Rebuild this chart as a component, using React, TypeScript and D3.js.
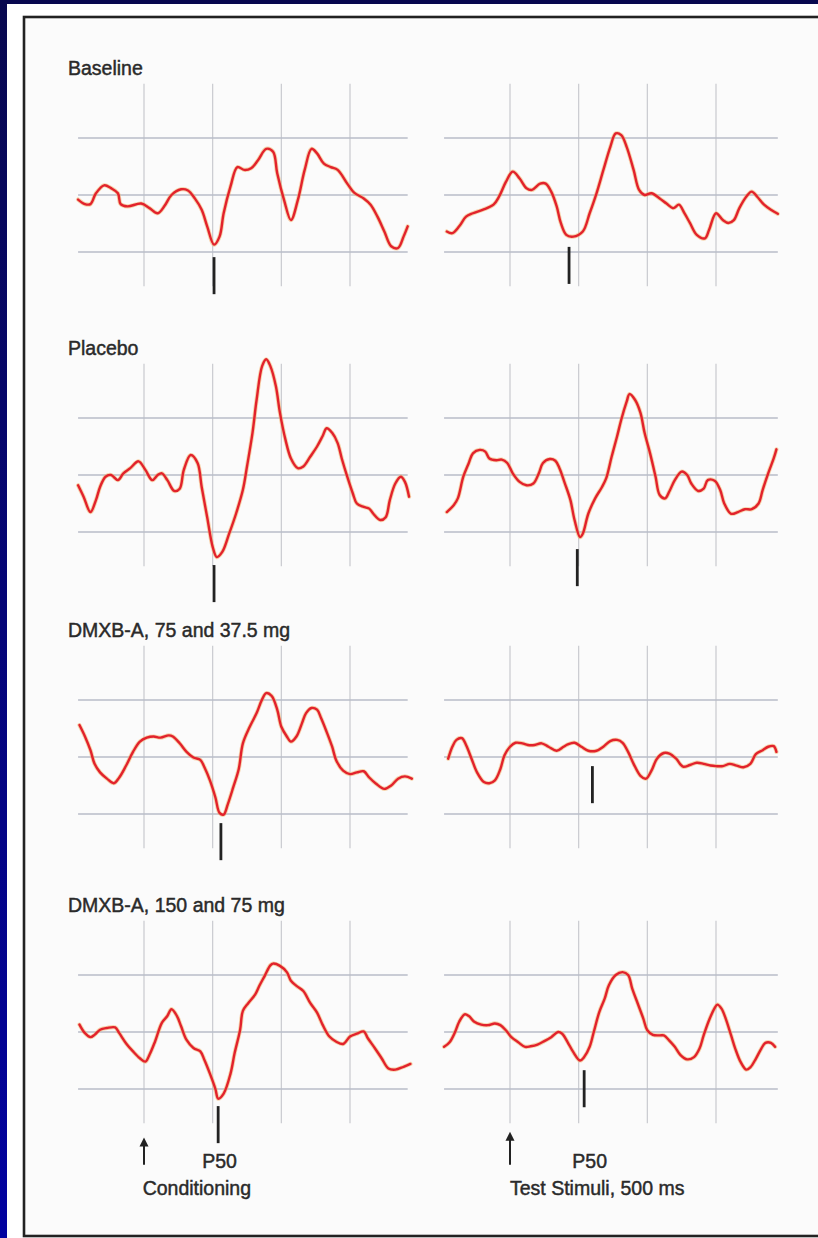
import React from 'react';
import * as d3 from 'd3';

// P50 auditory evoked potentials, conditioning (left) and test (right) stimulus
// each trace: [latency in ms from stimulus, amplitude in grid divisions]
const baselineCond = [[-48,-0.08],[-43,-0.16],[-39,-0.16],[-35,0.03],[-29,0.17],[-24,0.12],[-19,0.03],[-17,-0.16],[-12,-0.2],[-2,-0.15],[4,-0.23],[10,-0.32],[15,-0.19],[20,0],[27,0.1],[32,0.08],[37,-0.06],[42,-0.26],[46,-0.55],[51,-0.87],[55,-0.73],[58,-0.32],[63,0.15],[68,0.49],[73,0.44],[78,0.47],[83,0.61],[89,0.81],[94,0.76],[97,0.38],[102,-0.09],[107,-0.44],[112,-0.09],[117,0.44],[122,0.81],[126,0.73],[131,0.55],[136,0.49],[141,0.44],[148,0.2],[153,0.04],[160,-0.06],[165,-0.17],[170,-0.38],[175,-0.64],[180,-0.9],[185,-0.93],[189,-0.73],[192,-0.55]];
const baselineTest = [[-46,-0.64],[-42,-0.67],[-37,-0.55],[-32,-0.38],[-27,-0.32],[-20,-0.26],[-12,-0.17],[-8,-0.03],[-3,0.23],[2,0.41],[7,0.29],[12,0.12],[16,0.09],[22,0.2],[26,0.2],[30,0.06],[34,-0.2],[37,-0.49],[41,-0.7],[46,-0.73],[53,-0.64],[58,-0.32],[63,0.03],[68,0.44],[73,0.84],[77,1.08],[81,1.05],[85,0.84],[90,0.44],[94,0.09],[98,0],[103,0.03],[109,-0.06],[114,-0.15],[119,-0.23],[123,-0.17],[127,-0.32],[131,-0.49],[136,-0.7],[142,-0.76],[145,-0.61],[150,-0.32],[155,-0.44],[159,-0.49],[163,-0.44],[167,-0.23],[172,-0.03],[176,0.06],[180,-0.03],[185,-0.17],[190,-0.26],[195,-0.33]];
const placeboCond = [[-48,-0.18],[-44,-0.38],[-39,-0.65],[-35,-0.44],[-32,-0.21],[-28,-0.03],[-24,0],[-19,-0.09],[-15,0.03],[-10,0.12],[-4,0.24],[1,0.09],[6,-0.09],[10,0],[13,0.03],[17,-0.09],[22,-0.28],[26,-0.24],[29,0.09],[34,0.35],[39,0.21],[42,-0.21],[46,-0.74],[50,-1.26],[53,-1.44],[57,-1.35],[62,-1.03],[67,-0.68],[72,-0.26],[75,0.15],[79,0.74],[82,1.32],[86,1.91],[89,2.03],[92,1.91],[96,1.56],[99,1.09],[103,0.62],[107,0.29],[112,0.12],[116,0.15],[121,0.32],[126,0.5],[130,0.68],[133,0.82],[137,0.74],[141,0.56],[144,0.29],[148,-0.03],[152,-0.32],[155,-0.5],[160,-0.56],[164,-0.59],[167,-0.68],[172,-0.79],[176,-0.74],[179,-0.44],[183,-0.15],[187,-0.03],[190,-0.12],[193,-0.38]];
const placeboTest = [[-46,-0.65],[-41,-0.53],[-38,-0.41],[-34,-0.03],[-30,0.21],[-27,0.38],[-22,0.44],[-18,0.41],[-15,0.29],[-10,0.26],[-6,0.27],[-2,0.21],[2,0.03],[7,-0.12],[12,-0.18],[17,-0.15],[21,0.03],[24,0.21],[29,0.28],[33,0.25],[36,0.12],[40,-0.15],[44,-0.44],[47,-0.79],[51,-1.09],[53,-1.03],[57,-0.68],[62,-0.41],[67,-0.21],[70,-0.06],[74,0.32],[78,0.68],[81,0.97],[85,1.29],[87,1.42],[91,1.32],[95,1.09],[98,0.74],[102,0.38],[106,-0.03],[109,-0.35],[113,-0.41],[116,-0.29],[120,-0.09],[125,0.06],[129,0],[132,-0.15],[137,-0.28],[141,-0.24],[144,-0.09],[149,-0.1],[153,-0.26],[156,-0.5],[161,-0.68],[166,-0.65],[171,-0.6],[176,-0.6],[181,-0.5],[184,-0.26],[188,0.03],[192,0.29],[194,0.45]];
const dmxb75Cond = [[-47,0.56],[-43,0.36],[-39,0.12],[-36,-0.12],[-32,-0.27],[-27,-0.38],[-22,-0.46],[-18,-0.36],[-13,-0.15],[-8,0.09],[-3,0.27],[2,0.34],[7,0.36],[12,0.34],[18,0.38],[21,0.36],[26,0.24],[31,0.09],[36,-0.01],[41,-0.05],[44,-0.18],[48,-0.41],[52,-0.71],[55,-0.98],[58,-1.01],[61,-0.83],[65,-0.53],[69,-0.21],[72,0.24],[77,0.53],[82,0.77],[86,1.01],[89,1.12],[93,1.07],[97,0.83],[100,0.53],[104,0.36],[107,0.27],[111,0.36],[115,0.59],[118,0.77],[122,0.86],[126,0.83],[129,0.68],[133,0.44],[137,0.18],[140,-0.06],[145,-0.24],[150,-0.3],[155,-0.27],[160,-0.25],[164,-0.36],[169,-0.47],[175,-0.56],[180,-0.5],[185,-0.38],[190,-0.34],[195,-0.38]];
const dmxb75Test = [[-45,-0.03],[-42,0.18],[-39,0.3],[-35,0.33],[-32,0.21],[-28,-0.03],[-24,-0.27],[-19,-0.44],[-15,-0.46],[-11,-0.41],[-7,-0.21],[-4,0.03],[0,0.18],[4,0.25],[9,0.24],[13,0.21],[18,0.21],[23,0.24],[28,0.18],[34,0.11],[39,0.18],[42,0.22],[47,0.25],[52,0.18],[57,0.11],[63,0.11],[68,0.18],[73,0.28],[78,0.3],[82,0.25],[86,0.09],[90,-0.12],[95,-0.33],[99,-0.38],[103,-0.24],[107,-0.03],[112,0.07],[116,0.06],[121,-0.03],[126,-0.17],[131,-0.14],[136,-0.1],[141,-0.12],[146,-0.15],[150,-0.16],[155,-0.16],[160,-0.12],[165,-0.15],[170,-0.18],[175,-0.12],[179,0.05],[184,0.12],[188,0.18],[192,0.19],[194,0.09]];
const dmxb150Cond = [[-47,0.13],[-43,-0.02],[-39,-0.09],[-36,-0.05],[-32,0.04],[-27,0.07],[-21,0.08],[-18,-0.02],[-13,-0.2],[-8,-0.34],[-3,-0.46],[1,-0.52],[4,-0.4],[8,-0.17],[13,0.16],[17,0.28],[20,0.4],[24,0.28],[27,0.1],[31,-0.14],[36,-0.28],[41,-0.34],[44,-0.49],[48,-0.73],[52,-1],[54,-1.17],[58,-1.08],[63,-0.73],[66,-0.37],[70,0.04],[72,0.37],[76,0.51],[81,0.66],[84,0.81],[88,0.99],[92,1.17],[94,1.2],[99,1.16],[104,1.05],[107,0.9],[111,0.81],[116,0.72],[121,0.51],[126,0.34],[130,0.13],[135,-0.08],[140,-0.17],[145,-0.21],[150,-0.08],[155,-0.03],[160,0.01],[163,-0.11],[168,-0.28],[173,-0.46],[178,-0.64],[183,-0.66],[189,-0.61],[194,-0.56]];
const dmxb150Test = [[-48,-0.26],[-44,-0.18],[-40,0],[-37,0.18],[-33,0.31],[-30,0.28],[-26,0.18],[-21,0.13],[-16,0.12],[-11,0.15],[-7,0.12],[-3,0.03],[1,-0.09],[6,-0.18],[11,-0.26],[15,-0.25],[20,-0.22],[25,-0.16],[30,-0.09],[35,0],[38,-0.03],[42,-0.18],[46,-0.35],[51,-0.5],[54,-0.44],[58,-0.26],[61,0],[65,0.35],[69,0.59],[72,0.82],[77,1],[82,1.05],[86,1],[89,0.76],[93,0.5],[97,0.24],[100,0.03],[104,-0.05],[109,-0.06],[112,-0.06],[116,-0.15],[120,-0.26],[124,-0.4],[129,-0.48],[134,-0.44],[138,-0.29],[141,-0.06],[145,0.21],[149,0.42],[151,0.48],[154,0.41],[157,0.24],[161,-0.06],[164,-0.29],[168,-0.53],[172,-0.66],[175,-0.62],[179,-0.47],[183,-0.29],[186,-0.19],[190,-0.19],[193,-0.26]];

const rowLabels = ['Baseline', 'Placebo', 'DMXB-A, 75 and 37.5 mg', 'DMXB-A, 150 and 75 mg'];
const condTraces = [baselineCond, placeboCond, dmxb75Cond, dmxb150Cond];
const testTraces = [baselineTest, placeboTest, dmxb75Test, dmxb150Test];
// P50 wave latency (ms) and where its marker starts (divisions)
const condP50 = [51, 51, 56, 54];
const testP50 = [43, 49, 60, 54];
const condMarkTop = [-1.09, -1.58, -1.16, -1.3];
const testMarkTop = [-0.91, -1.3, -0.16, -0.67];
const gridMs = [0, 50, 100, 150];
const gridDiv = [-1, 0, 1];

const W = 818;
const H = 1238;
const rowMid = [195, 475, 757, 1032];
const unit = 57;
const font = '"Liberation Sans", Arial, sans-serif';
const ink = '#2a2a2a';

const xCond = d3.scaleLinear().domain([0, 150]).range([144, 350]);
const xTest = d3.scaleLinear().domain([0, 150]).range([510, 716]);
const condExtent = [-48, 192];
const testExtent = [-48, 195];

const Label = ({ x, y, anchor = 'start', children }) => (
  <text x={x} y={y} textAnchor={anchor} fontFamily={font} fontSize={19.5}
    fill={ink} stroke={ink} strokeWidth={0.45}>{children}</text>
);

const Panel = ({ x, extent, y, trace, p50, markTop }) => {
  const line = d3.line()
    .x(d => x(d[0]))
    .y(d => y(d[1]))
    .curve(d3.curveCatmullRom.alpha(0.5));
  const path = line(trace);
  return (
    <g>
      {gridMs.map(t => (
        <line key={'v' + t} x1={x(t)} x2={x(t)} y1={y(1.95)} y2={y(-1.6)}
          stroke="#c9cacf" strokeWidth={1.2} />
      ))}
      {gridDiv.map(v => (
        <line key={'h' + v} x1={x(extent[0])} x2={x(extent[1])} y1={y(v)} y2={y(v)}
          stroke="#b9bcc8" strokeWidth={1.3} />
      ))}
      <path d={path} fill="none" stroke="#f3b06a" strokeWidth={4.2} strokeOpacity={0.55}
        strokeLinejoin="round" strokeLinecap="round" />
      <path d={path} fill="none" stroke="#e2222c" strokeWidth={2.4}
        strokeLinejoin="round" strokeLinecap="round" />
      <line x1={x(p50)} x2={x(p50)} y1={y(markTop)} y2={y(markTop - 0.65)}
        stroke="#222" strokeWidth={2.8} />
    </g>
  );
};

const Arrow = ({ cx, y1, y2 }) => (
  <g>
    <line x1={cx} x2={cx} y1={y2} y2={y1 + 6} stroke="#222" strokeWidth={2} />
    <path d={`M${cx},${y1} L${cx - 4.5},${y1 + 9} L${cx + 4.5},${y1 + 9} Z`} fill="#222" />
  </g>
);

export default function App() {
  const ys = rowMid.map(m => d3.scaleLinear().domain([-1, 1]).range([m + unit, m - unit]));
  const last = ys[3];
  return (
    <div style={{ position: 'absolute', left: 0, top: 0 }}>
      <svg width={W} height={H} style={{ display: 'block' }}>
        <defs>
          <linearGradient id="navy" x1="0" y1="0" x2="0" y2="1">
            <stop offset="0" stopColor="#08084f" />
            <stop offset="1" stopColor="#0202a0" />
          </linearGradient>
        </defs>
        <rect x={0} y={0} width={W} height={H} fill="url(#navy)" />
        <rect x={7} y={4} width={W - 7} height={H - 4} fill="#ffffff" />
        <rect x={24} y={17} width={W + 20} height={1219} fill="#fbfbfb"
          stroke="#222" strokeWidth={2.6} />

        {rowLabels.map((label, i) => (
          <g key={label}>
            <Label x={68} y={rowMid[i] - 120}>{label}</Label>
            <Panel x={xCond} extent={condExtent} y={ys[i]} trace={condTraces[i]}
              p50={condP50[i]} markTop={condMarkTop[i]} />
            <Panel x={xTest} extent={testExtent} y={ys[i]} trace={testTraces[i]}
              p50={testP50[i]} markTop={testMarkTop[i]} />
          </g>
        ))}

        <Arrow cx={xCond(0)} y1={last(-1.85)} y2={last(-2.33)} />
        <Arrow cx={xTest(0)} y1={last(-1.75)} y2={last(-2.33)} />
        <Label x={xCond(55)} y={1168} anchor="middle">P50</Label>
        <Label x={xCond(-1)} y={1195}>Conditioning</Label>
        <Label x={xTest(58)} y={1168} anchor="middle">P50</Label>
        <Label x={xTest(0)} y={1195}>Test Stimuli, 500 ms</Label>
      </svg>
    </div>
  );
}
